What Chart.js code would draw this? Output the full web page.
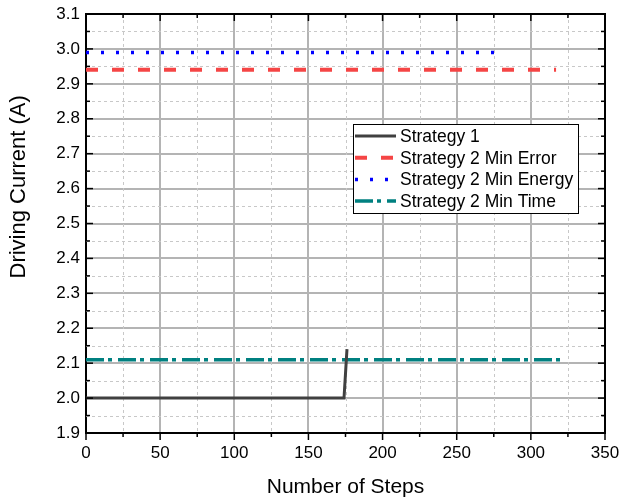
<!DOCTYPE html>
<html>
<head>
<style>
    body { margin: 0; background: #fff; }
</style>
</head>
<body>
<canvas id="canvas" width="621" height="499"></canvas>
<script src="https://cdn.jsdelivr.net/npm/chart.js"></script>
<script>
    // data
    const seriesNames = ['Strategy 1', 'Strategy 2 Min Error', 'Strategy 2 Min Energy', 'Strategy 2 Min Time'];
    const strategy1Steps = [0, 174, 176];
    const strategy1Current = [2.0, 2.0, 2.14];
    const minErrorSteps = [0, 317];
    const minErrorCurrent = [2.94, 2.94];
    const minEnergySteps = [0, 277];
    const minEnergyCurrent = [2.99, 2.99];
    const minTimeSteps = [0, 323];
    const minTimeCurrent = [2.11, 2.11];

    const xTicks = [0, 50, 100, 150, 200, 250, 300, 350];
    const xMinorTicks = [25, 75, 125, 175, 225, 275, 325];
    const yTicks = [1.9, 2.0, 2.1, 2.2, 2.3, 2.4, 2.5, 2.6, 2.7, 2.8, 2.9, 3.0, 3.1];
    const yMinorTicks = [1.95, 2.05, 2.15, 2.25, 2.35, 2.45, 2.55, 2.65, 2.75, 2.85, 2.95, 3.05];

    const FONT = "Arial, 'Liberation Sans', sans-serif";

    function toPoints(xs, ys) {
        return xs.map((x, i) => ({x: x, y: ys[i]}));
    }

    function seg(ctx, x1, y1, x2, y2) {
        ctx.beginPath();
        ctx.moveTo(x1, y1);
        ctx.lineTo(x2, y2);
        ctx.stroke();
    }

    // minor dashed grid, the box frame, tick marks and the legend inside the plot
    const framePlugin = {
        id: 'frame',
        beforeDatasetsDraw(chart) {
            const {ctx, chartArea: a, scales: {x, y}} = chart;
            ctx.save();
            ctx.strokeStyle = '#c8c8c8';
            ctx.lineWidth = 1;
            ctx.setLineDash([3, 3]);
            xMinorTicks.forEach(v => {
                const px = Math.round(x.getPixelForValue(v)) + 0.5;
                seg(ctx, px, a.top, px, a.bottom);
            });
            yMinorTicks.forEach(v => {
                const py = Math.round(y.getPixelForValue(v)) + 0.5;
                seg(ctx, a.left, py, a.right, py);
            });
            ctx.restore();
        },
        afterDatasetsDraw(chart) {
            const {ctx, chartArea: a, scales: {x, y}} = chart;
            ctx.save();
            ctx.strokeStyle = '#000';
            ctx.lineWidth = 2;
            seg(ctx, a.left, a.top, a.right + 1, a.top);
            seg(ctx, a.right, a.top, a.right, a.bottom);

            ctx.lineWidth = 1.5;
            xTicks.concat(xMinorTicks).forEach(v => {
                const px = x.getPixelForValue(v);
                const len = xTicks.includes(v) ? 7 : 4;
                seg(ctx, px, a.bottom, px, a.bottom + len);
                seg(ctx, px, a.top, px, a.top + len);
            });
            yTicks.concat(yMinorTicks).forEach(v => {
                const py = y.getPixelForValue(v);
                const len = yTicks.includes(v) ? 7 : 4;
                seg(ctx, a.left, py, a.left + len, py);
                seg(ctx, a.right, py, a.right - len, py);
            });

            // legend
            const bx = a.left + 267, by = a.top + 110, bw = 225, bh = 89;
            ctx.fillStyle = '#fff';
            ctx.fillRect(bx, by, bw, bh);
            ctx.lineWidth = 1;
            ctx.strokeStyle = '#000';
            ctx.strokeRect(bx + 0.5, by + 0.5, bw, bh);
            ctx.font = '17.5px ' + FONT;
            ctx.textBaseline = 'middle';
            chart.data.datasets.forEach((ds, i) => {
                const cy = by + 12 + i * 21.7;
                ctx.strokeStyle = ds.borderColor;
                ctx.lineWidth = ds.borderWidth;
                ctx.setLineDash(ds.borderDash || []);
                seg(ctx, bx + 2, cy, bx + 43, cy);
                ctx.setLineDash([]);
                ctx.fillStyle = '#000';
                ctx.fillText(ds.label, bx + 47, cy + 1);
            });
            ctx.restore();
        }
    };

    const data = {
        datasets: [
            {
                label: seriesNames[0],
                data: toPoints(strategy1Steps, strategy1Current),
                borderColor: '#404040',
                borderWidth: 3
            },
            {
                label: seriesNames[1],
                data: toPoints(minErrorSteps, minErrorCurrent),
                borderColor: '#f54545',
                borderWidth: 4,
                borderDash: [12, 14]
            },
            {
                label: seriesNames[2],
                data: toPoints(minEnergySteps, minEnergyCurrent),
                borderColor: '#0000ff',
                borderWidth: 3.5,
                borderDash: [3, 12]
            },
            {
                label: seriesNames[3],
                data: toPoints(minTimeSteps, minTimeCurrent),
                borderColor: '#008080',
                borderWidth: 3.5,
                borderDash: [18, 4, 4, 6]
            }
        ]
    };

    const config = {
        type: 'line',
        data: data,
        options: {
            responsive: false,
            animation: false,
            layout: { padding: { top: 14, right: 16, left: 0, bottom: 0 } },
            elements: { point: { radius: 0 }, line: { tension: 0 } },
            plugins: {
                legend: { display: false },
                tooltip: { enabled: false }
            },
            scales: {
                x: {
                    type: 'linear',
                    min: xTicks[0],
                    max: xTicks[xTicks.length - 1],
                    afterBuildTicks: (scale) => { scale.ticks = xTicks.map(v => ({value: v})); },
                    afterFit: (scale) => {
                        scale.height = 66;
                        scale.paddingLeft = 0;
                        scale.paddingRight = 0;
                    },
                    grid: { color: '#b4b4b4', lineWidth: 2, drawTicks: false },
                    border: { color: '#000', width: 2 },
                    ticks: {
                        padding: 10,
                        color: '#000',
                        font: { family: FONT, size: 17 }
                    },
                    title: {
                        display: true,
                        text: 'Number of Steps',
                        color: '#000',
                        font: { family: FONT, size: 21, lineHeight: 1 },
                        padding: { top: 0, bottom: 1 }
                    }
                },
                y: {
                    min: yTicks[0],
                    max: yTicks[yTicks.length - 1],
                    afterBuildTicks: (scale) => { scale.ticks = yTicks.map(v => ({value: v})); },
                    afterFit: (scale) => {
                        scale.width = 86;
                        scale.paddingTop = 0;
                        scale.paddingBottom = 0;
                    },
                    grid: { color: '#b4b4b4', lineWidth: 2, drawTicks: false },
                    border: { color: '#000', width: 2 },
                    ticks: {
                        padding: 6,
                        color: '#000',
                        font: { family: FONT, size: 17 },
                        callback: (v) => Number(v).toFixed(1)
                    },
                    title: {
                        display: true,
                        text: '            Driving Current (A)',
                        color: '#000',
                        font: { family: FONT, size: 22, lineHeight: 1 },
                        padding: { top: 7.5, bottom: 0 }
                    }
                }
            }
        },
        plugins: [framePlugin]
    };

    const myChart = new Chart(document.getElementById('canvas'), config);
</script>
</body>
</html>
